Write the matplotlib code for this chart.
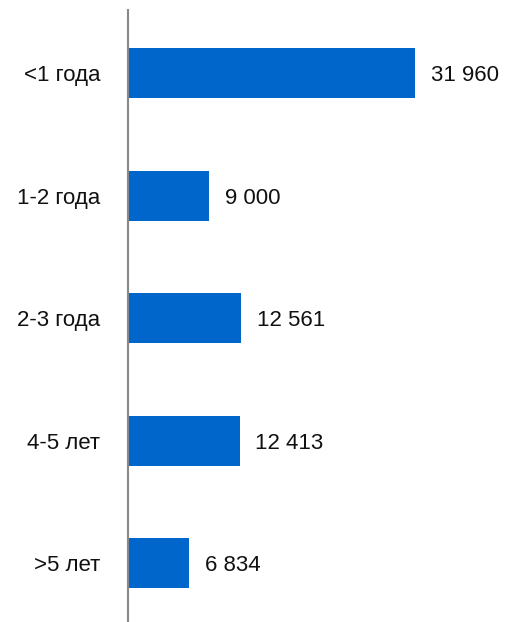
import matplotlib.pyplot as plt

categories = ['<1 года', '1-2 года', '2-3 года', '4-5 лет', '>5 лет']
values = [31960, 9000, 12561, 12413, 6834]
value_labels = ['31 960', '9 000', '12 561', '12 413', '6 834']

plt.rcParams['font.family'] = ['Liberation Sans', 'DejaVu Sans']

fig = plt.figure(figsize=(5.10, 6.22), dpi=100)
ax = fig.add_axes([128 / 510, 0, 372 / 510, 612 / 622])

ypos = range(len(categories))
ax.barh(ypos, values, height=0.41, color='#0066CC')
for y, v, lab in zip(ypos, values, value_labels):
    ax.text(v + 1750, y, lab, va='center_baseline', ha='left', fontsize=16, color='#111111')

ax.set_xlim(0, 41400)
ax.set_ylim(4.48, -0.515)
ax.set_yticks(list(ypos))
ax.set_yticklabels(categories, fontsize=16, color='#111111')
ax.tick_params(axis='y', length=0, pad=20)
ax.set_xticks([])
for s in ['top', 'right', 'bottom']:
    ax.spines[s].set_visible(False)
ax.spines['left'].set_color('#888888')
ax.spines['left'].set_linewidth(1.5)

fig.savefig('out.png', dpi=100)
